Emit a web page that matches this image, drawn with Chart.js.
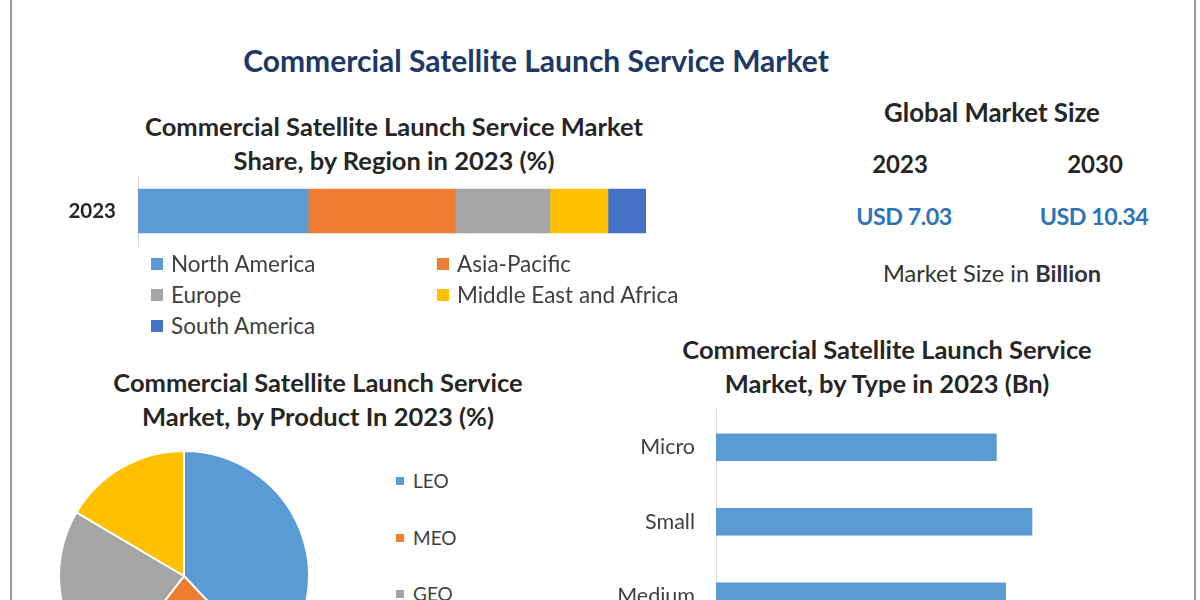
<!DOCTYPE html>
<html>
<head>
<meta charset="utf-8">
<title>Commercial Satellite Launch Service Market</title>
<script src="https://cdn.jsdelivr.net/npm/chart.js"></script>
<style>
    html, body { margin: 0; padding: 0; background: #fff; overflow: hidden; }
    #page { position: relative; width: 1200px; height: 600px; overflow: hidden; background: #fff;
            font-family: Lato, "Open Sans", sans-serif; color: #262626; }
    .txt { position: absolute; text-align: center; white-space: nowrap; }
    .title { font-weight: bold; font-size: 25.5px; line-height: 33.5px; }
    .frame { position: absolute; top: 0; width: 2px; height: 600px; background: #8c9bb5; }
    canvas { position: absolute; }
    .legend { position: absolute; color: #404040; }
    .legend .item { position: absolute; white-space: nowrap; line-height: 24px; }
    .legend .box { display: inline-block; vertical-align: middle; position: relative; top: -2px; }
</style>
</head>
<body>
<div id="page">
    <div class="frame" style="left:10px"></div>
    <div class="frame" style="left:1194px"></div>

    <div class="txt" style="left:236px; top:42px; width:600px; line-height:36px; font-size:30px; font-weight:bold; color:#203864">Commercial Satellite Launch Service Market</div>

    <div class="txt title" style="left:94px; top:110px; width:600px">Commercial Satellite Launch Service Market<br>Share, by Region in 2023 (%)</div>
    <canvas id="regionChart" width="700" height="120" style="left:0; top:150px"></canvas>
    <div id="regionLegend" class="legend" style="left:151px; top:252px; font-size:22.5px"></div>

    <div id="marketPanel"></div>

    <div class="txt title" style="left:18px; top:366px; width:600px">Commercial Satellite Launch Service<br>Market, by Product In 2023 (%)</div>
    <canvas id="productChart" width="260" height="260" style="left:54px; top:446px"></canvas>
    <div id="productLegend" class="legend" style="left:396px; top:469px; font-size:19px"></div>

    <div class="txt title" style="left:587px; top:333px; width:600px">Commercial Satellite Launch Service<br>Market, by Type in 2023 (Bn)</div>
    <canvas id="typeChart" width="560" height="280" style="left:600px; top:380px"></canvas>
</div>

<script>
/* Data */
const regionYears = ['2023'];
const regionLabels = ['North America', 'Asia-Pacific', 'Europe', 'Middle East and Africa', 'South America'];
const regionShares = [33.5, 29.0, 18.6, 11.4, 7.5];

const productLabels = ['LEO', 'MEO', 'GEO', 'Beyond GEO'];
const productShares = [38.0, 22.5, 23.0, 16.5];

const typeLabels = ['Micro', 'Small', 'Medium'];
const typeValues = [1.81, 2.04, 1.87];

const marketYears = ['2023', '2030'];
const marketSizes = [7.03, 10.34];

/* Colours */
const regionColors = ['#5b9bd5', '#ed7d31', '#a5a5a5', '#ffc000', '#4472c4'];
const productColors = ['#5b9bd5', '#ed7d31', '#a5a5a5', '#ffc000'];
const typeColor = '#5b9bd5';

/* Global market size panel */
const panel = document.getElementById('marketPanel');
const yearCenters = [900, 1095];
let html = '<div class="txt" style="left:842px; top:97px; width:300px; line-height:30px; font-size:25.8px; font-weight:bold">Global Market Size</div>';
marketYears.forEach((year, i) => {
    html += '<div class="txt" style="left:' + (yearCenters[i] - 100) + 'px; top:149px; width:200px; line-height:30px; font-size:24px; font-weight:bold">' + year + '</div>';
    html += '<div class="txt" style="left:' + (yearCenters[i] - 100 + (i ? -1 : 4)) + 'px; top:201px; width:200px; line-height:30px; font-size:23.3px; font-weight:bold; color:#2e75b6; letter-spacing:-0.5px">USD ' + marketSizes[i].toFixed(2) + '</div>';
});
html += '<div class="txt" style="left:842px; top:258px; width:300px; line-height:30px; font-size:23.6px; color:#333">Market Size in <b>Billion</b></div>';
panel.innerHTML = html;

/* Legends */
function buildLegend(id, labels, colors, place, boxSize, gap) {
    const el = document.getElementById(id);
    el.innerHTML = labels.map((name, i) => {
        const pos = place(i);
        return '<div class="item" style="left:' + pos[0] + 'px; top:' + pos[1] + 'px">' +
            '<span class="box" style="width:' + boxSize + 'px; height:' + boxSize + 'px; margin-right:' + gap + 'px; background:' + colors[i] + '"></span>' +
            name + '</div>';
    }).join('');
}
buildLegend('regionLegend', regionLabels, regionColors, i => [(i % 2) * 286, Math.floor(i / 2) * 31], 12, 8);
buildLegend('productLegend', productLabels, productColors, i => [0, i * 56.5], 8, 9);

/* invisible tick marks, only used to push the labels away from the axis line */
function spacerGrid(len) {
    return { display: true, drawOnChartArea: false, drawTicks: true, tickLength: len, color: 'rgba(0,0,0,0)' };
}

/* Graphic : share by region (stacked bar) */
new Chart(document.getElementById('regionChart').getContext('2d'), {
    type: 'bar',
    data: {
        labels: regionYears,
        datasets: regionLabels.map((name, i) => ({
            label: name,
            data: [regionShares[i]],
            backgroundColor: regionColors[i],
            borderWidth: 0,
            barThickness: 44
        }))
    },
    options: {
        indexAxis: 'y',
        responsive: false,
        animation: false,
        layout: { padding: { top: 26, bottom: 24, left: 0, right: 54 } },
        plugins: {
            legend: { display: false },
            title: { display: false },
            tooltip: { enabled: false }
        },
        scales: {
            x: { stacked: true, display: false, min: 0, max: 100 },
            y: {
                stacked: true,
                grid: spacerGrid(22),
                border: { display: true, color: '#d9d9d9', width: 1 },
                ticks: { padding: 0, color: '#262626', font: { family: 'Lato', size: 20.5, weight: 'bold' } },
                afterFit: function (scale) { scale.width = 138; }
            }
        }
    }
});

/* Graphic : share by product (pie) */
new Chart(document.getElementById('productChart').getContext('2d'), {
    type: 'pie',
    data: {
        labels: productLabels,
        datasets: [{
            data: productShares,
            backgroundColor: productColors,
            borderColor: '#ffffff',
            borderWidth: 2
        }]
    },
    options: {
        responsive: false,
        animation: false,
        layout: { padding: 4 },
        plugins: {
            legend: { display: false },
            tooltip: { enabled: false }
        }
    }
});

/* Graphic : market by type (horizontal bars) */
new Chart(document.getElementById('typeChart').getContext('2d'), {
    type: 'bar',
    data: {
        labels: typeLabels,
        datasets: [{
            data: typeValues,
            backgroundColor: typeColor,
            borderWidth: 0,
            barThickness: 27
        }]
    },
    options: {
        indexAxis: 'y',
        responsive: false,
        animation: false,
        layout: { padding: { top: 30, bottom: 26.5, left: 0, right: 10.3 } },
        plugins: {
            legend: { display: false },
            tooltip: { enabled: false }
        },
        scales: {
            x: { display: false, min: 0, max: 2.8 },
            y: {
                grid: spacerGrid(21),
                border: { display: true, color: '#d9d9d9', width: 1 },
                ticks: { padding: 0, color: '#404040', font: { family: 'Lato', size: 21.5 } },
                afterFit: function (scale) { scale.width = 116; }
            }
        }
    }
});
</script>
</body>
</html>
